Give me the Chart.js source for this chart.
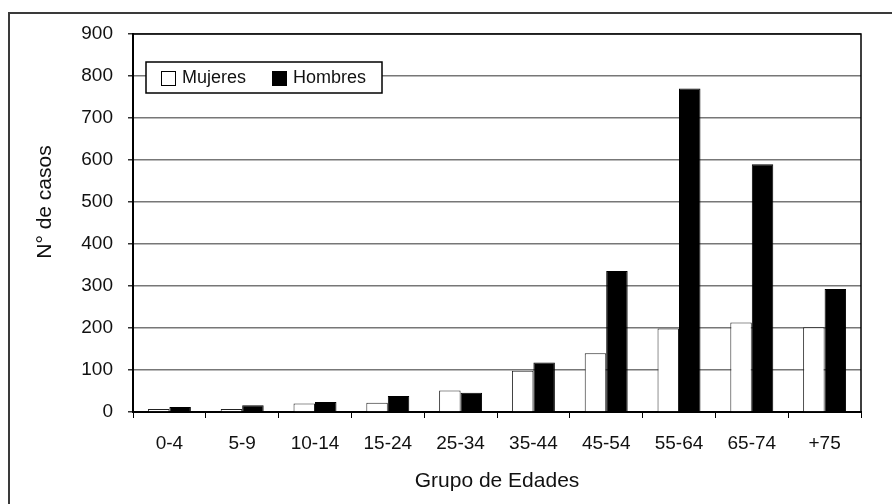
<!DOCTYPE html>
<html>
<head>
<meta charset="utf-8">
<script src="https://cdn.jsdelivr.net/npm/chart.js@4.4.1/dist/chart.umd.min.js"></script>
<style>
  html, body { margin: 0; padding: 0; background: #fff; }
  #wrap { width: 892px; height: 504px; position: relative; }
</style>
</head>
<body>
<div id="wrap"><canvas id="c" width="892" height="504"></canvas></div>
<script>
// Age groups and case counts by sex
const ageGroups = ['0-4', '5-9', '10-14', '15-24', '25-34', '35-44', '45-54', '55-64', '65-74', '+75'];
const mujeres = [7, 7, 20, 22, 51, 98, 140, 199, 213, 202];
const hombres = [12, 16, 24, 38, 46, 118, 336, 770, 590, 293];
const yTicks = [0, 100, 200, 300, 400, 500, 600, 700, 800, 900];
const yTitle = 'N° de casos';

const FONT = 'Liberation Sans, Arial, sans-serif';

// Outer frame, plot box, value-axis title and boxed legend
const decor = {
  id: 'decor',
  beforeDraw(chart) {
    const ctx = chart.ctx;
    ctx.save();
    ctx.fillStyle = '#fff';
    ctx.fillRect(0, 0, chart.width, chart.height);
    ctx.strokeStyle = '#3a3a3a';
    ctx.lineWidth = 2;
    ctx.beginPath();
    ctx.moveTo(9, chart.height);
    ctx.lineTo(9, 13);
    ctx.lineTo(chart.width, 13);
    ctx.stroke();
    ctx.restore();
  },
  beforeDatasetsDraw(chart) {
    const ctx = chart.ctx;
    const a = chart.chartArea;
    ctx.save();
    ctx.strokeStyle = '#000';
    ctx.lineWidth = 1.5;
    ctx.beginPath();
    ctx.moveTo(a.left, a.top);
    ctx.lineTo(a.right, a.top);
    ctx.lineTo(a.right, a.bottom);
    ctx.stroke();
    ctx.restore();
  },
  afterDraw(chart) {
    const ctx = chart.ctx;
    const a = chart.chartArea;
    const y = chart.scales.y;

    // rotated title of the value axis, centred on the 500 tick line
    ctx.save();
    ctx.translate(45, y.getPixelForValue(500));
    ctx.rotate(-Math.PI / 2);
    ctx.font = '21px ' + FONT;
    ctx.fillStyle = '#111';
    ctx.textAlign = 'center';
    ctx.textBaseline = 'middle';
    ctx.fillText(yTitle, 0, 0);
    ctx.restore();

    const bx = a.left + 13, by = 62, bw = 236, bh = 31;
    ctx.save();
    ctx.fillStyle = '#fff';
    ctx.fillRect(bx, by, bw, bh);
    ctx.strokeStyle = '#000';
    ctx.lineWidth = 1.5;
    ctx.strokeRect(bx, by, bw, bh);
    ctx.font = '18px ' + FONT;
    ctx.textBaseline = 'middle';
    ctx.textAlign = 'left';
    const items = [
      { x: bx + 15, ds: chart.data.datasets[0] },
      { x: bx + 126, ds: chart.data.datasets[1] }
    ];
    items.forEach(it => {
      ctx.fillStyle = it.ds.backgroundColor;
      ctx.fillRect(it.x, 71, 14, 14);
      ctx.strokeStyle = '#000';
      ctx.lineWidth = 1;
      ctx.strokeRect(it.x + 0.5, 71.5, 14, 14);
      ctx.fillStyle = '#111';
      ctx.fillText(it.ds.label, it.x + 21, 78);
    });
    ctx.restore();
  }
};

new Chart(document.getElementById('c'), {
  type: 'bar',
  data: {
    labels: ageGroups,
    datasets: [
      {
        label: 'Mujeres',
        data: mujeres,
        backgroundColor: '#ffffff',
        borderColor: '#222',
        borderWidth: 1,
        barPercentage: 1,
        categoryPercentage: 0.59
      },
      {
        label: 'Hombres',
        data: hombres,
        backgroundColor: '#000000',
        borderColor: '#000',
        borderWidth: 1,
        barPercentage: 1,
        categoryPercentage: 0.59
      }
    ]
  },
  options: {
    responsive: false,
    animation: false,
    devicePixelRatio: 1,
    layout: { padding: { left: 0, top: 34, right: 31, bottom: 0 } },
    plugins: {
      legend: { display: false },
      tooltip: { enabled: false }
    },
    scales: {
      x: {
        grid: {
          drawOnChartArea: false,
          drawTicks: true,
          tickLength: 6,
          tickColor: '#000',
          offset: true
        },
        border: { display: true, color: '#000', width: 2 },
        ticks: {
          color: '#111',
          font: { family: FONT, size: 19 },
          padding: 14,
          maxRotation: 0,
          autoSkip: false
        },
        title: {
          display: true,
          text: 'Grupo de Edades',
          color: '#111',
          font: { family: FONT, size: 21 },
          padding: { top: 0, bottom: 10 }
        },
        afterFit(scale) { scale.height = 92; }
      },
      y: {
        min: 0,
        max: 900,
        afterBuildTicks(scale) { scale.ticks = yTicks.map(v => ({ value: v })); },
        grid: {
          color: '#777',
          lineWidth: 1.5,
          drawTicks: true,
          tickLength: 5,
          tickColor: '#333'
        },
        border: { display: true, color: '#000', width: 2 },
        ticks: {
          color: '#111',
          font: { family: FONT, size: 19 },
          padding: 15
        },
        afterFit(scale) { scale.width = 133; }
      }
    }
  },
  plugins: [decor]
});
</script>
</body>
</html>
